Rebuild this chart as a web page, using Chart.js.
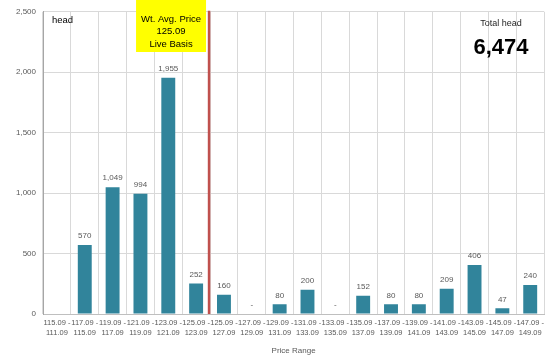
<!DOCTYPE html>
<html>
<head>
<meta charset="utf-8">
<script src="https://cdn.jsdelivr.net/npm/chart.js@4"></script>
<style>
  html, body { margin: 0; padding: 0; background: #fff; }
  #wrap { width: 548px; height: 356px; position: relative; }
</style>
</head>
<body>
<div id="wrap"><canvas id="c" width="548" height="356"></canvas></div>
<script>
// Price bands (two-line tick labels) and head counts per band
const priceRanges = [
  ['115.09 -', '111.09'], ['117.09 -', '115.09'], ['119.09 -', '117.09'],
  ['121.09 -', '119.09'], ['123.09 -', '121.09'], ['125.09 -', '123.09'],
  ['125.09 -', '127.09'], ['127.09 -', '129.09'], ['129.09 -', '131.09'],
  ['131.09 -', '133.09'], ['133.09 -', '135.09'], ['135.09 -', '137.09'],
  ['137.09 -', '139.09'], ['139.09 -', '141.09'], ['141.09 -', '143.09'],
  ['143.09 -', '145.09'], ['145.09 -', '147.09'], ['147.09 -', '149.09']
];
const headCounts = [null, 570, 1049, 994, 1955, 252, 160, 0, 80, 200, 0, 152, 80, 80, 209, 406, 47, 240];
const yTicks = [0, 500, 1000, 1500, 2000, 2500];

const avgPriceText = ['Wt. Avg. Price', '125.09', 'Live Basis'];
const avgBoundaryIndex = 5.5;   // boundary between the 123.09-125.09 and 125.09-127.09 bands
const totalHead = headCounts.reduce((s, v) => s + (v || 0), 0);

const fmt = v => v.toLocaleString('en-US');
const FONT = "'Liberation Sans', 'DejaVu Sans', sans-serif";

const overlay = {
  id: 'overlay',
  afterDatasetsDraw(chart) {
    const ctx = chart.ctx;
    const x = chart.scales.x, y = chart.scales.y;
    const meta = chart.getDatasetMeta(0);
    ctx.save();
    // value labels above bars
    ctx.font = '8px ' + FONT;
    ctx.fillStyle = '#595959';
    ctx.textAlign = 'center';
    ctx.textBaseline = 'middle';
    meta.data.forEach((bar, i) => {
      const v = headCounts[i];
      if (v === null) return;
      const txt = v > 0 ? fmt(v) : '-';
      ctx.fillText(txt, bar.x, bar.y - 9);
    });

    // weighted average price marker
    const lx = x.getPixelForValue(avgBoundaryIndex) - 1;
    ctx.strokeStyle = '#c0504d';
    ctx.lineWidth = 2.5;
    ctx.beginPath();
    ctx.moveTo(lx, chart.chartArea.top - 1);
    ctx.lineTo(lx, y.getPixelForValue(0));
    ctx.stroke();

    // yellow note box
    const bw = 70, bh = 52;
    const bx = lx - 3 - bw;
    ctx.fillStyle = '#ffff00';
    ctx.fillRect(bx, 0, bw, bh);
    ctx.fillStyle = '#000';
    ctx.font = '9.5px ' + FONT;
    avgPriceText.forEach((t, k) => ctx.fillText(t, bx + bw / 2, 19 + k * 12.5));

    // labels in the plot corners
    ctx.textAlign = 'left';
    ctx.font = '9.5px ' + FONT;
    ctx.fillText('head', 52, 20);
    ctx.textAlign = 'center';
    ctx.fillStyle = '#262626';
    ctx.font = '9px ' + FONT;
    ctx.fillText('Total head', 501, 24);
    ctx.fillStyle = '#000';
    ctx.font = 'bold 22px ' + FONT;
    ctx.fillText(fmt(totalHead), 501, 48);
    ctx.restore();
  }
};

new Chart(document.getElementById('c'), {
  type: 'bar',
  data: {
    labels: priceRanges,
    datasets: [{
      data: headCounts,
      backgroundColor: '#31849b',
      barPercentage: 0.5,
      categoryPercentage: 1.0
    }]
  },
  options: {
    responsive: false,
    animation: false,
    layout: { padding: { top: 8, right: 1, left: 0, bottom: 0 } },
    plugins: { legend: { display: false }, tooltip: { enabled: false } },
    scales: {
      x: {
        grid: { color: '#d9d9d9', drawTicks: false, offset: true },
        border: { color: '#bfbfbf' },
        ticks: {
          autoSkip: false, maxRotation: 0, minRotation: 0,
          padding: 4, color: '#595959',
          font: { family: FONT, size: 7.5, lineHeight: 1.3 }
        },
        title: {
          display: true, text: 'Price Range', color: '#595959',
          font: { family: FONT, size: 8 }, padding: { top: 6, bottom: 0 }
        },
        afterFit(s) { s.height = 42; }
      },
      y: {
        min: 0, max: 2500,
        afterBuildTicks(s) { s.ticks = yTicks.map(v => ({ value: v })); },
        grid: { color: '#d9d9d9', drawTicks: false },
        border: { color: '#a6a6a6' },
        ticks: {
          padding: 7, color: '#595959',
          font: { family: FONT, size: 8 },
          callback: v => fmt(v)
        },
        afterFit(s) { s.width = 43; }
      }
    }
  },
  plugins: [overlay]
});
</script>
</body>
</html>
